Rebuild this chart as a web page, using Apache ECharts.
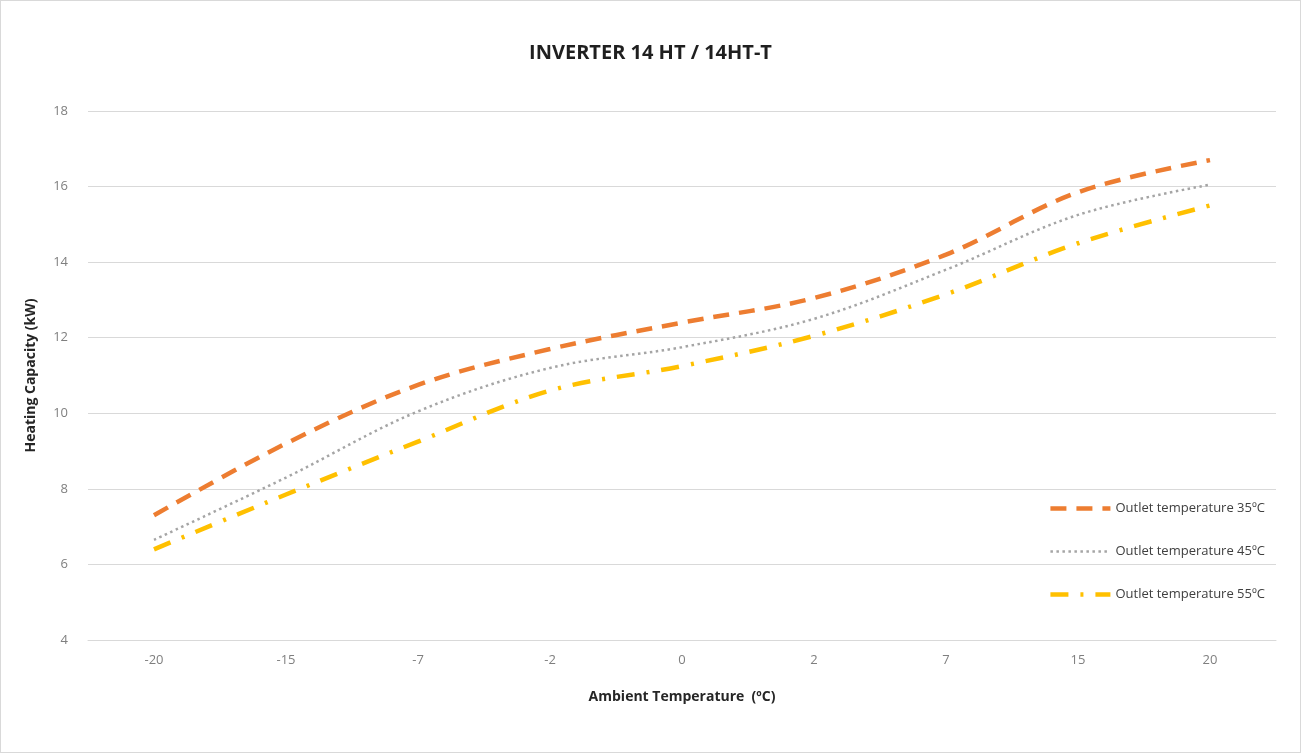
<!DOCTYPE html>
<html>
<head>
<meta charset="utf-8">
<script src="https://cdn.jsdelivr.net/npm/echarts@6/dist/echarts.min.js"></script>
<style>
    html, body { margin: 0; padding: 0; background: #fff; }
    #chart { width: 1301px; height: 753px; box-sizing: border-box; border: 1px solid #d9d9d9; }
</style>
</head>
<body>
<div id="chart"></div>
<script>
// ambient temperature categories (ºC)
const ambientTemps = ['-20', '-15', '-7', '-2', '0', '2', '7', '15', '20'];

// heating capacity (kW) per outlet temperature
const outlet35 = [7.3, 9.2, 10.75, 11.7, 12.4, 13.05, 14.2, 15.85, 16.7];
const outlet45 = [6.65, 8.3, 10.05, 11.2, 11.75, 12.5, 13.8, 15.25, 16.05];
const outlet55 = [6.4, 7.85, 9.25, 10.6, 11.25, 12.05, 13.15, 14.5, 15.5];

const seriesNames = [
    'Outlet temperature 35ºC',
    'Outlet temperature 45ºC',
    'Outlet temperature 55ºC'
];

const fontFamily = '"Open Sans", "Liberation Sans", sans-serif';

const dash35 = [16, 10];
const dot45 = [2.5, 3.5];
const dashDot55 = [18, 12, 3, 12];

const chart = echarts.init(document.getElementById('chart'));

const option = {
    animation: false,
    color: ['#ED7D31', '#A5A5A5', '#FFC000'],
    title: {
        text: 'INVERTER 14 HT / 14HT-T',
        left: 'center',
        top: 37,
        textStyle: {
            fontFamily: fontFamily,
            fontSize: 20,
            fontWeight: 'bold',
            color: '#1f1f1f'
        }
    },
    legend: {
        orient: 'vertical',
        right: 30,
        top: 496,
        itemWidth: 60,
        itemHeight: 14,
        itemGap: 30,
        itemStyle: { opacity: 0 },
        textStyle: {
            fontFamily: fontFamily,
            fontSize: 13,
            color: '#404040'
        },
        data: [
            { name: seriesNames[0], lineStyle: { width: 4.5, type: dash35 } },
            { name: seriesNames[1], lineStyle: { width: 2.5, type: dot45 } },
            { name: seriesNames[2], lineStyle: { width: 4.5, type: dashDot55 } }
        ]
    },
    grid: {
        left: 87,
        right: 24,
        top: 110,
        bottom: 112
    },
    xAxis: {
        type: 'category',
        data: ambientTemps,
        boundaryGap: true,
        name: 'Ambient Temperature  (ºC)',
        nameLocation: 'middle',
        nameGap: 50,
        nameTextStyle: {
            fontFamily: fontFamily,
            fontSize: 14,
            fontWeight: 'bold',
            color: '#262626'
        },
        axisLine: { show: true, lineStyle: { color: '#d9d9d9' } },
        axisTick: { show: false },
        axisLabel: {
            fontFamily: fontFamily,
            fontSize: 13,
            color: '#7f7f7f',
            margin: 14
        }
    },
    yAxis: {
        type: 'value',
        min: 4,
        max: 18,
        interval: 2,
        name: 'Heating Capacity (kW)',
        nameLocation: 'middle',
        nameGap: 50,
        nameTextStyle: {
            fontFamily: fontFamily,
            fontSize: 14,
            fontWeight: 'bold',
            color: '#262626'
        },
        axisLine: { show: false },
        axisTick: { show: false },
        axisLabel: {
            fontFamily: fontFamily,
            fontSize: 13,
            color: '#7f7f7f',
            margin: 20
        },
        splitLine: { lineStyle: { color: '#d9d9d9', width: 1 } }
    },
    series: [
        {
            name: seriesNames[0],
            type: 'line',
            smooth: 0.35,
            symbol: 'none',
            data: outlet35,
            lineStyle: { width: 4.5, type: dash35 }
        },
        {
            name: seriesNames[1],
            type: 'line',
            smooth: 0.35,
            symbol: 'none',
            data: outlet45,
            lineStyle: { width: 2.5, type: dot45 }
        },
        {
            name: seriesNames[2],
            type: 'line',
            smooth: 0.35,
            symbol: 'none',
            data: outlet55,
            lineStyle: { width: 4.5, type: dashDot55 }
        }
    ]
};

chart.setOption(option);
</script>
</body>
</html>
